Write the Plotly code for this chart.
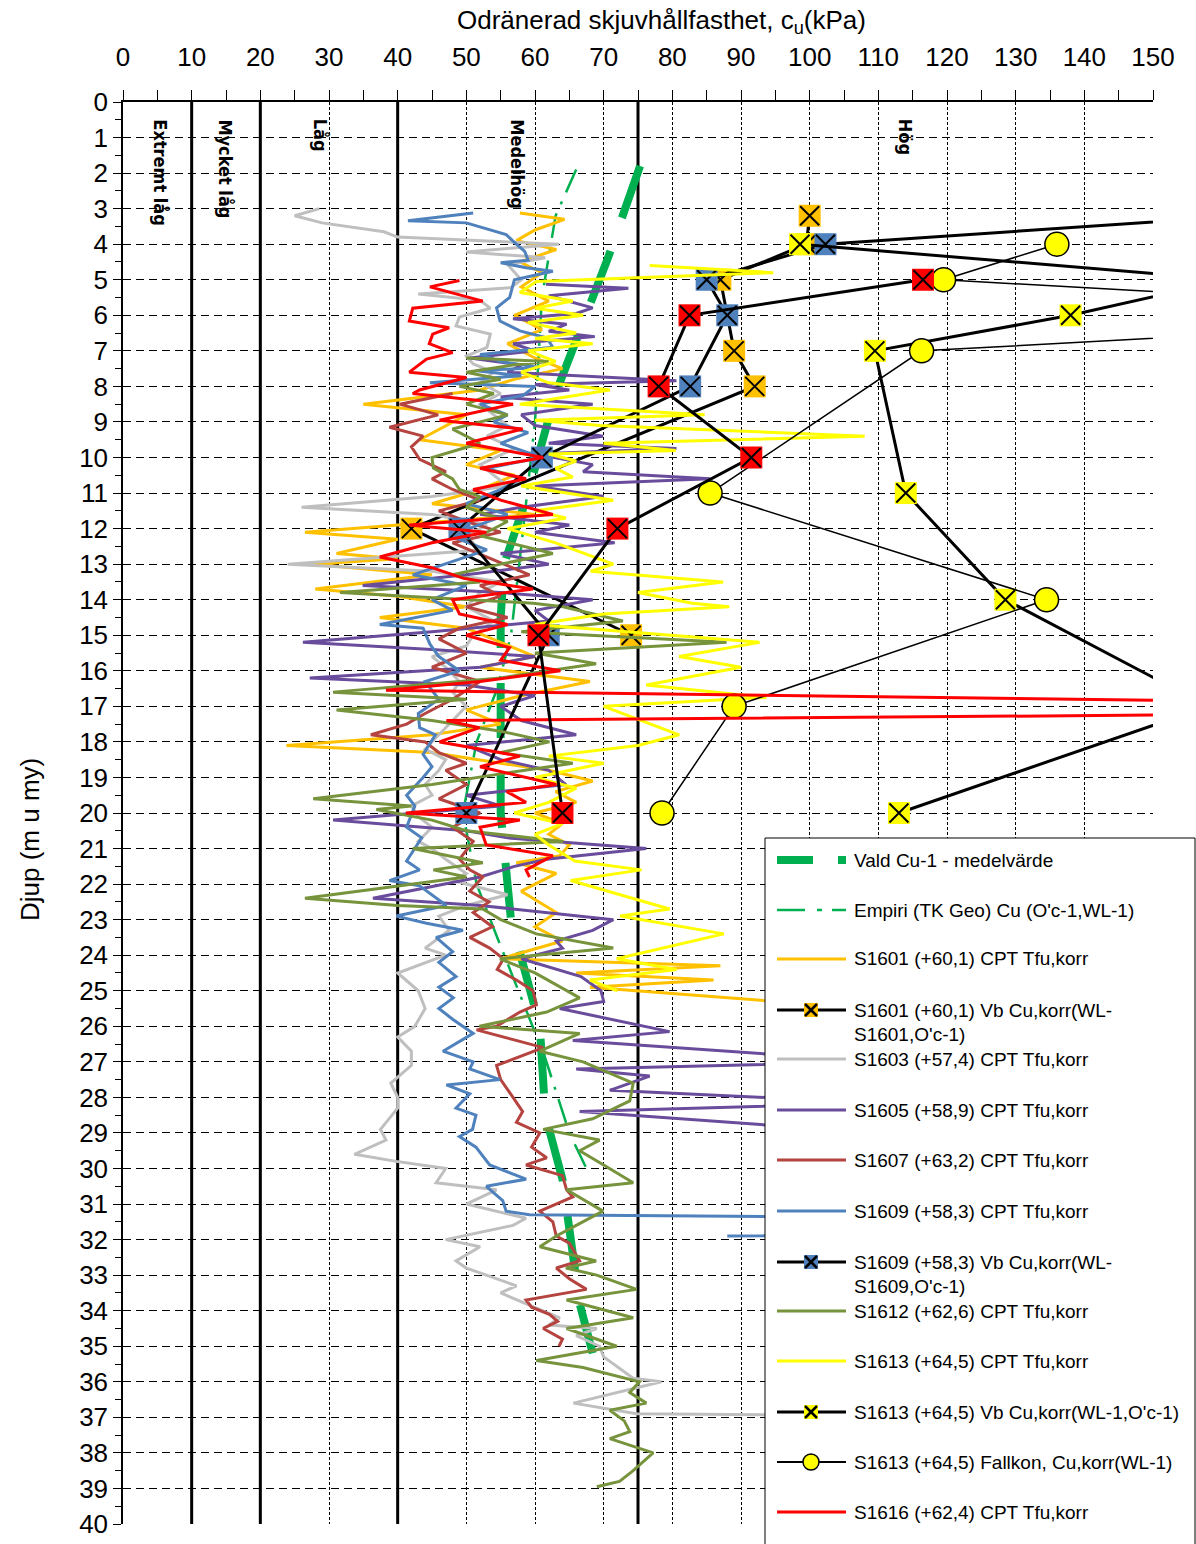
import plotly.graph_objects as go

# ---------------- data (cu kPa, depth m) ----------------
VALD_CU = [75.3, 70.6, 63.0, 59.0, 55.5, 55.0, 55.0, 56.5, 60.7, 61.5, 64.0, 66.5, 68.4]
VALD_D = [1.8, 4.4, 8.2, 11.0, 13.0, 14.5, 20.0, 23.0, 26.0, 28.5, 30.3, 33.8, 35.2]

EMP_CU = [66, 63, 61, 60, 58, 56.5, 54.5, 51.5, 49.5, 50, 51.5, 54.5, 61.5, 65, 67.5]
EMP_D = [1.9, 3.2, 5.5, 9, 12.5, 15, 16.5, 18, 20, 20.5, 22, 23.5, 26.9, 29, 30]

S1601_CPT = [(57.8,3.12),(64.3,3.3),(60,3.6),(57.3,3.9),(63.1,4.15),(57.8,4.5),(61,4.8),(58,5.2),(62,5.6),(57,6.0),
             (61,6.4),(56,6.8),(60,7.2),(64,7.5),(57,7.8),(52,8.1),(35,8.5),(50,8.8),(43.2,9.5),(55,9.8),(50,10.2),
             (57,10.5),(52,10.9),(45,11.3),(60,11.6),(26.5,12.1),(40,12.3),(31.1,12.7),(40,12.85),(27.5,13.0),(45,13.3),
             (28,13.7),(40,13.9),(50,14.2),(37.4,14.5),(50,14.8),(55,15.2),(60,15.6),(52,15.9),(68,16.3),(58,16.7),
             (50,17.1),(55,17.5),(45,17.8),(23.8,18.1),(45,18.3),(55,18.6),(62,18.8),(68.4,19.1),(63,19.4),(66,19.7),
             (60,20.0),(64,20.3),(62,20.6),(65,20.9),(63.6,21.2),(57.3,21.4),(63.1,21.7),(58,22.2),(63.1,22.8),(60,23.2),
             (64,23.6),(55,24.1),(87,24.3),(66,24.5),(86,24.7),(68,24.9),(95,25.3),(160,25.5)]

S1603_CPT = [(28.6,3.0),(25,3.2),(29,3.4),(38,3.65),(40,3.8),(63.5,4.0),(50,4.22),(61.5,4.38),(56,4.57),(57,4.8),
             (58,5.0),(56.5,5.22),(43,5.4),(52,5.58),(53.5,5.8),(49,6.05),(48.5,6.3),(53.5,6.53),(53,6.9),(50,7.15),
             (51,7.37),(54,7.6),(52,7.9),(55,8.2),(52,8.5),(54,8.8),(56,9.1),(53,9.4),(57,9.75),(52,10.2),(54,10.5),
             (56,10.8),(45,11.1),(26,11.4),(45,11.6),(53,11.9),(50,12.2),(52,12.6),(24,13.0),(45,13.2),(55,13.5),
             (52,13.8),(50,14.2),(54,14.6),(51,15.0),(50,15.3),(45,15.6),(47,15.9),(49,16.3),(48,16.6),(50,17.0),
             (48,17.4),(46,17.8),(44,18.2),(47,18.5),(46,18.8),(44,19.2),(45,19.5),(42,19.8),(43,20.1),(45,20.4),
             (43,20.8),(45,21.0),(47,21.3),(50,21.7),(48,21.9),(56,22.3),(50,22.6),(46,22.9),(47.5,23.3),(44,23.8),
             (47,24.0),(40,24.5),(43,25.0),(44,25.5),(42.5,26.0),(40,26.3),(42,26.7),(42,27.1),(39,27.6),(40,28.0),
             (40,28.3),(37.5,28.9),(38.3,29.2),(33.7,29.6),(39.8,29.8),(47,30.0),(45.6,30.4),(54.4,30.6),(50,31.0),
             (58.7,31.4),(56.8,31.6),(47,32.0),(52,32.2),(48.5,32.6),(50,32.8),(57.3,33.3),(55,33.5),(63.6,34.2),
             (62,34.4),(69,34.5),(66,34.7),(69.4,35.0),(70,35.3),(74.3,35.9),(78.4,36.0),(65.6,36.6),(71.4,36.8),
             (74.8,36.9),(200,37.1)]

S1605_CPT = [(61.6,5.13),(73.6,5.24),(62,5.45),(68.4,5.79),(66,5.95),(56.8,6.1),(64.6,6.25),(62,6.45),(68.7,6.6),
             (56.8,6.8),(60,7.0),(50.5,7.2),(58,7.4),(56,7.6),(80.6,7.84),(60,7.95),(65,8.1),(55,8.3),(68.4,8.5),
             (58,8.8),(60,9.1),(69.9,9.4),(62,9.6),(80.6,9.75),(60,9.9),(68.4,10.2),(67,10.4),(85.5,10.6),(60,10.8),
             (70,11.1),(58,11.4),(52,11.6),(65,11.9),(60,12.1),(71.6,12.4),(55,12.7),(62,13.0),(50,13.3),(34.9,13.6),
             (55,13.8),(68.4,14.0),(60,14.3),(62,14.6),(45,14.9),(26.2,15.2),(45,15.4),(60,15.6),(52,15.9),(27.2,16.2),
             (50,16.4),(60,16.7),(55,17.0),(58,17.4),(66,17.8),(50,18.1),(55,18.5),(62,18.8),(64.5,19.2),(50,19.5),
             (55,19.8),(30.6,20.2),(50,20.5),(56,20.7),(76.2,21.0),(61.7,21.3),(57,21.5),(52,21.8),(36.4,22.4),
             (52,22.6),(71.4,23.0),(68.4,23.3),(63.1,23.6),(64,23.8),(58,24.1),(66.7,24.6),(69.6,25.0),(70,25.3),
             (63.6,25.5),(79.6,26.15),(65.5,26.4),(110,27.0),(66,27.2),(76.7,27.4),(70.9,27.8),(110,28.15),
             (66.5,28.4),(110,29.0)]

S1607_CPT = [(48,8.2),(40.3,8.5),(45.9,8.8),(38.8,9.15),(43.7,9.4),(42,9.7),(43.2,10.05),(47,10.4),(45,10.6),
             (48,10.9),(52,11.2),(46,11.5),(50,11.8),(55,12.1),(48,12.4),(53,12.8),(59.2,13.3),(52,13.6),(55,13.9),
             (50,14.2),(56,14.5),(49,14.8),(46,15.1),(50,15.5),(45,15.9),(52,16.3),(48,16.8),(44,17.2),(41.3,17.5),
             (36.1,17.8),(44,18.0),(46,18.3),(50,18.6),(47,18.8),(50,19.2),(46,19.6),(52,20.0),(48,20.4),(51,20.8),
             (49,21.3),(50.5,21.6),(52.4,21.8),(50.5,22.2),(53.3,22.5),(51,22.8),(53.8,23.2),(50.5,23.5),(53.4,23.8),
             (55.4,24.1),(54.5,24.4),(57.3,24.7),(59.7,25.0),(60.2,25.4),(57.8,25.6),(54.4,26.0),(51.5,26.1),
             (61.2,26.6),(54.4,27.1),(55,27.5),(56.8,28.0),(58.2,28.4),(57.3,28.7),(60.7,29.0),(59.5,29.4),
             (61.7,29.7),(58.7,29.9),(64,30.2),(64.6,30.6),(65.5,30.8),(60.7,31.2),(62.6,31.5),(63.1,31.9),(65,32.1),
             (66.5,32.6),(63.1,32.8),(65,33.1),(67.5,33.4),(58.7,33.7),(59.5,33.9),(62.1,34.1),(63.3,34.3),
             (61.2,34.5),(64,34.8),(63.5,35.0)]

S1609_CPT = [(51,3.12),(41.5,3.34),(50,3.4),(55.8,3.73),(57,3.95),(58.5,4.2),(59,4.45),(55,4.52),(58.7,4.66),
             (62.6,4.76),(57,5.0),(56.8,5.13),(56.3,5.5),(54.4,5.79),(54.9,6.16),(57.8,6.44),(61.7,6.63),(62.6,6.9),
             (52,7.1),(55,7.3),(60.7,7.47),(51.5,7.56),(58,7.7),(44.7,7.9),(60,8.0),(58.3,8.25),(52,8.5),(56,8.8),
             (54,9.0),(59,9.3),(55,9.6),(61,10.0),(53,10.3),(58,10.6),(55,10.9),(50,11.3),(56,11.6),(47.6,12.2),
             (53,12.6),(42.2,13.3),(50,13.6),(45,14.0),(48,14.3),(37.4,14.7),(43.7,14.8),(44.7,15.25),(46,15.6),
             (49,16.0),(44,16.3),(46,16.8),(43,17.2),(43.2,17.6),(45.5,17.8),(43.7,18.35),(45,18.7),(43.7,19.0),
             (41.3,19.5),(42.5,19.8),(41.3,20.4),(43.5,20.7),(41.3,21.35),(43.2,21.6),(38.8,21.9),(43.2,22.05),
             (47.1,22.6),(39.8,22.9),(44.2,23.1),(49.5,23.3),(45.6,23.5),(48,23.9),(46,24.2),(48.5,24.6),(46,24.9),
             (48.1,25.2),(46,25.5),(48,25.8),(51,26.2),(46.6,26.7),(51,27.0),(50.5,27.2),(54.9,27.5),(47.1,27.65),
             (50.5,27.9),(48.5,28.3),(51.4,28.5),(50.9,28.9),(49,29.1),(51.4,29.4),(53.4,29.9),(58.7,30.3),
             (52.9,30.5),(55.3,30.9),(55.8,31.2),(59.2,31.3),(250,31.6),(88,31.9)]

S1612_CPT = [(50,7.2),(62,7.3),(56.8,7.4),(50,7.6),(55,7.8),(49,8.0),(54,8.2),(50,8.5),(56,8.8),(48,9.2),(52,9.6),
             (45,10.0),(45.2,10.3),(48,10.6),(49,10.9),(52,11.1),(50,11.4),(56,11.8),(52,12.2),(62.6,12.7),(55,13.0),
             (48,13.3),(52,13.5),(31.6,13.8),(59.7,14.1),(64.1,14.2),(72.8,14.6),(58,14.9),(87.9,15.2),(60,15.5),
             (68.9,15.8),(55,16.2),(30.6,16.6),(50,16.8),(31.1,17.1),(45,17.4),(55,17.7),(62.1,18.0),(55,18.3),
             (65.5,18.6),(55,18.9),(45,19.2),(27.7,19.6),(42,19.8),(36.9,19.9),(45,20.2),(50,20.5),(64.1,20.8),
             (42.2,21.0),(52.4,21.4),(45.2,21.6),(50,21.8),(26.5,22.4),(40,22.6),(52.4,22.7),(55,23.0),(60.2,23.4),
             (71.4,23.8),(54.9,24.1),(60,24.5),(66.5,25.2),(61.7,25.6),(51.9,26.0),(66.5,26.2),(60.7,26.7),(67,27.0),
             (74.3,27.6),(73.8,28.1),(68.4,28.6),(61.2,28.9),(69.4,29.2),(66.5,29.5),(70,29.9),(74.3,30.4),(64.6,30.6),
             (69.9,31.2),(66,31.6),(63.1,31.9),(60.7,32.2),(68.9,32.6),(64.5,32.8),(69,33.0),(74.8,33.4),(64.6,33.7),
             (74.3,34.2),(64.6,34.5),(71.9,35.0),(60.2,35.4),(67,35.6),(75.2,36.0),(73.8,36.3),(76.2,36.6),(70.9,36.8),
             (73,37.1),(73.8,37.4),(70.9,37.6),(77.2,38.0),(74.3,38.5),(72.3,38.8),(69,38.95)]

S1613_CPT = [(76.7,4.6),(94.7,4.8),(60.2,5.05),(57.8,5.36),(65.5,5.6),(60,5.8),(67,6.0),(59,6.2),(66,6.5),(60,6.65),
             (68.4,6.8),(59,7.0),(63,7.3),(58,7.6),(62,7.9),(70.9,8.1),(57.8,8.5),(84.7,8.8),(60,8.95),(69.5,9.1),
             (108,9.4),(70,9.6),(80.5,9.8),(62,9.9),(66,10.1),(63,10.3),(65.5,10.55),(58,10.8),(71.4,11.2),(60,11.5),
             (64.5,11.7),(56,12.0),(63,12.4),(71.4,13.0),(68.1,13.2),(87.4,13.5),(75,13.8),(82.9,14.1),(88.3,14.2),
             (70,14.4),(60,14.7),(92.7,15.2),(81,15.6),(90,15.9),(76.2,16.4),(93.7,16.75),(70,17.0),(81,17.8),
             (75,18.1),(62,18.4),(70,18.6),(60,19.0),(66,19.3),(62,19.7),(57,20.0),(64,20.3),(60,20.6),(62,20.9),
             (65.8,21.35),(75.5,21.6),(65.2,21.9),(79.6,22.7),(72.4,22.9),(87.5,23.4),(71.9,24.1),(80.6,24.4),
             (68,24.7),(72,25.0)]

S1616_CPT = [(49,5.02),(44.7,5.2),(52.4,5.6),(42.2,5.8),(41.7,6.16),(47.5,6.35),(45.1,6.53),(44.6,6.8),(48,7.05),
             (44.2,7.23),(41.7,7.6),(50,7.75),(43.2,8.1),(42.2,8.2),(56.8,8.5),(46.1,8.95),(58.2,9.2),(50,9.6),
             (61.2,10.0),(52,10.3),(58.7,10.6),(51,10.9),(55,11.2),(62.6,11.6),(41.7,11.9),(52.9,12.1),(45,12.4),
             (37.4,12.8),(45,13.1),(49.6,13.4),(59.7,13.7),(48,14.0),(49,14.4),(56,14.7),(50,15.0),(56.3,15.35),
             (55,15.7),(63.7,16.0),(52,16.3),(38.3,16.55),(180,16.9),(180,17.2),(47.1,17.4),(51.9,17.6),(46.1,18.0),
             (57.8,18.4),(52,18.7),(63.1,19.2),(55.9,19.4),(58.7,19.7),(41.2,20.0),(57.8,20.2),(52,20.4),(52.9,20.9),
             (62.6,21.2),(58.7,21.6),(59.2,21.8)]

# vane / fall-cone tests
S1601_VB_CU = [100, 99.5, 87, 89, 92, 42, 74]
S1601_VB_D = [3.2, 4, 5, 7, 8, 12, 15]
S1609_VB_CU = [179, 102.3, 85, 88, 82.6, 61, 49, 62, 50]
S1609_VB_D = [3, 4, 5, 6, 8, 10, 12, 15, 20]
S1613_VB_CU = [98.6, 161, 138, 109.5, 114, 128.5, 158, 113]
S1613_VB_D = [4, 5, 6, 7, 11, 14, 17, 20]
FALLKON_CU = [136, 119.5, 212, 116.3, 85.5, 134.5, 89, 78.5]
FALLKON_D = [4, 5, 6, 7, 11, 14, 17, 20]
S1616_VB_CU = [116.5, 82.5, 78, 91.5, 72, 60.5, 64]
S1616_VB_D = [5, 6, 8, 10, 12, 15, 20]

ZONE_LABELS = ["Extremt låg", "Mycket låg", "Låg", "Medelhög", "Hög"]
ZONE_X = [5.4, 15.0, 28.8, 57.4, 113.9]
ZONE_LINES = [10, 20, 40, 75]

C_GREEN = "#00B050"; C_ORANGE = "#FFC000"; C_GRAY = "#BFBFBF"; C_PURPLE = "#6A4C9C"
C_BROWN = "#B5433F"; C_BLUE = "#4F81BD"; C_OLIVE = "#77933C"; C_YELLOW = "#FFFF00"; C_RED = "#FF0000"

fig = go.Figure()

def cpt(pairs, color):
    fig.add_trace(go.Scatter(x=[p[0] for p in pairs], y=[p[1] for p in pairs], mode="lines",
                             line=dict(color=color, width=3), showlegend=False, hoverinfo="skip"))

def vb(cu, d, color):
    fig.add_trace(go.Scatter(x=cu, y=d, mode="lines+markers", line=dict(color="black", width=3),
                             marker=dict(symbol="square", size=22, color=color, line=dict(width=0)),
                             showlegend=False, hoverinfo="skip"))
    fig.add_trace(go.Scatter(x=cu, y=d, mode="markers",
                             marker=dict(symbol="x-thin", size=19, line=dict(color="black", width=2)),
                             showlegend=False, hoverinfo="skip"))

fig.add_trace(go.Scatter(x=VALD_CU, y=VALD_D, mode="lines", line=dict(color=C_GREEN, width=8, dash="55px,35px"),
                         showlegend=False, hoverinfo="skip"))
fig.add_trace(go.Scatter(x=EMP_CU, y=EMP_D, mode="lines", line=dict(color=C_GREEN, width=2.5, dash="25px,10px,3px,10px"),
                         showlegend=False, hoverinfo="skip"))
cpt(S1601_CPT, C_ORANGE)
vb(S1601_VB_CU, S1601_VB_D, C_ORANGE)
cpt(S1603_CPT, C_GRAY)
cpt(S1605_CPT, C_PURPLE)
cpt(S1607_CPT, C_BROWN)
cpt(S1609_CPT, C_BLUE)
vb(S1609_VB_CU, S1609_VB_D, C_BLUE)
cpt(S1612_CPT, C_OLIVE)
cpt(S1613_CPT, C_YELLOW)
vb(S1613_VB_CU, S1613_VB_D, C_YELLOW)
fig.add_trace(go.Scatter(x=FALLKON_CU, y=FALLKON_D, mode="lines+markers", line=dict(color="black", width=1.5),
                         marker=dict(symbol="circle", size=24, color=C_YELLOW, line=dict(color="black", width=1.5)),
                         showlegend=False, hoverinfo="skip"))
cpt(S1616_CPT, C_RED)
vb(S1616_VB_CU, S1616_VB_D, C_RED)

# ---------------- layout ----------------
W, H = 1196, 1544
L, R, T, B = 123, 1153, 102, 1524
FONT = "Liberation Sans, Arial, sans-serif"

def px(xp, yp):
    return (xp - L) / (R - L), (B - yp) / (B - T)

shapes = []
for xv in ZONE_LINES:
    shapes.append(dict(type="line", xref="x", yref="y", x0=xv, x1=xv, y0=0, y1=40,
                       line=dict(color="black", width=3), layer="below"))

# manual legend box
x0, y0 = px(765, 838)
x1, y1 = px(1195, 1560)
shapes.append(dict(type="rect", xref="paper", yref="paper", x0=x0, x1=x1, y0=y1, y1=y0,
                   fillcolor="white", line=dict(color="black", width=1), layer="above"))

def lseg(xa, xb, yy, color, width):
    a = px(xa, yy); b = px(xb, yy)
    shapes.append(dict(type="line", xref="paper", yref="paper", x0=a[0], x1=b[0], y0=a[1], y1=b[1],
                       line=dict(color=color, width=width), layer="above"))

def sq(cx, cy, color, hs=7):
    a = px(cx - hs, cy + hs); b = px(cx + hs, cy - hs)
    shapes.append(dict(type="rect", xref="paper", yref="paper", x0=a[0], x1=b[0], y0=a[1], y1=b[1],
                       fillcolor=color, line=dict(width=0), layer="above"))
    for (ax_, ay_, bx_, by_) in [(cx - 6, cy - 6, cx + 6, cy + 6), (cx - 6, cy + 6, cx + 6, cy - 6)]:
        p1 = px(ax_, ay_); p2 = px(bx_, by_)
        shapes.append(dict(type="line", xref="paper", yref="paper", x0=p1[0], x1=p2[0], y0=p1[1], y1=p2[1],
                           line=dict(color="black", width=2.5), layer="above"))

def circ(cx, cy, color, r=8):
    a = px(cx - r, cy + r); b = px(cx + r, cy - r)
    shapes.append(dict(type="circle", xref="paper", yref="paper", x0=a[0], x1=b[0], y0=a[1], y1=b[1],
                       fillcolor=color, line=dict(color="black", width=1.5), layer="above"))

LEG_TEXT = [
    ("Vald Cu-1 - medelvärde", 860), ("Empiri (TK Geo) Cu (O'c-1,WL-1)", 910), ("S1601 (+60,1) CPT Tfu,korr", 959),
    ("S1601 (+60,1) Vb Cu,korr(WL-", 1010), ("S1601,O'c-1)", 1034), ("S1603 (+57,4) CPT Tfu,korr", 1059),
    ("S1605 (+58,9) CPT Tfu,korr", 1110), ("S1607 (+63,2) CPT Tfu,korr", 1160), ("S1609 (+58,3) CPT Tfu,korr", 1211),
    ("S1609 (+58,3) Vb Cu,korr(WL-", 1262), ("S1609,O'c-1)", 1286), ("S1612 (+62,6) CPT Tfu,korr", 1311),
    ("S1613 (+64,5) CPT Tfu,korr", 1361), ("S1613 (+64,5) Vb Cu,korr(WL-1,O'c-1)", 1412),
    ("S1613 (+64,5) Fallkon, Cu,korr(WL-1)", 1462), ("S1616 (+62,4) CPT Tfu,korr", 1512)]

# samples
lseg(777, 813, 860, C_GREEN, 8); lseg(838, 846, 860, C_GREEN, 8)
lseg(777, 805, 910, C_GREEN, 2.5); lseg(817, 822, 910, C_GREEN, 2.5); lseg(832, 846, 910, C_GREEN, 2.5)
lseg(777, 846, 959, C_ORANGE, 3)
lseg(777, 846, 1010, "black", 3); sq(811, 1010, C_ORANGE)
lseg(777, 846, 1059, C_GRAY, 3)
lseg(777, 846, 1110, C_PURPLE, 3)
lseg(777, 846, 1160, C_BROWN, 3)
lseg(777, 846, 1211, C_BLUE, 3)
lseg(777, 846, 1262, "black", 3); sq(811, 1262, C_BLUE)
lseg(777, 846, 1311, C_OLIVE, 3)
lseg(777, 846, 1361, C_YELLOW, 3)
lseg(777, 846, 1412, "black", 3); sq(811, 1412, C_YELLOW)
lseg(777, 846, 1462, "black", 2); circ(811, 1462, C_YELLOW)
lseg(777, 846, 1512, C_RED, 3)

annotations = []
for txt, yy in LEG_TEXT:
    a = px(852, yy)
    annotations.append(dict(xref="paper", yref="paper", x=a[0], y=a[1], text=txt, showarrow=False,
                            xanchor="left", yanchor="middle", font=dict(family=FONT, size=19, color="black")))

for lab, xv in zip(ZONE_LABELS, ZONE_X):
    annotations.append(dict(xref="x", yref="y", x=xv, y=0.42, text="<b>" + lab + "</b>", textangle=90,
                            showarrow=False, xanchor="center", yanchor="top",
                            font=dict(family="Liberation Sans Narrow, DejaVu Sans Condensed, Arial Narrow, sans-serif",
                                      size=18, color="black")))

t = px(661, 22)
annotations.append(dict(xref="paper", yref="paper", x=t[0], y=t[1], text="Odränerad skjuvhållfasthet, c<sub>u</sub>(kPa)",
                        showarrow=False, xanchor="center", yanchor="middle", font=dict(family=FONT, size=26, color="black")))
yt = px(30, 840)
annotations.append(dict(xref="paper", yref="paper", x=yt[0], y=yt[1], text="Djup (m u my)", textangle=-90,
                        showarrow=False, xanchor="center", yanchor="middle", font=dict(family=FONT, size=26, color="black")))

fig.update_layout(
    width=W, height=H, margin=dict(l=L, r=W - R, t=T, b=H - B, pad=0, autoexpand=False),
    plot_bgcolor="white", paper_bgcolor="white", showlegend=False,
    xaxis=dict(range=[0, 150], side="top", tick0=0, dtick=10, showgrid=True, gridcolor="black", gridwidth=1,
               griddash="3px,2px", ticks="outside", ticklen=10, tickwidth=1, tickcolor="black",
               minor=dict(dtick=5, ticks="outside", ticklen=10, tickcolor="black", showgrid=False),
               showline=True, linecolor="black", linewidth=1.5, zeroline=False, ticklabelstandoff=14,
               tickfont=dict(family=FONT, size=26, color="black")),
    yaxis=dict(range=[40, 0], tick0=0, dtick=1, showgrid=True, gridcolor="black", gridwidth=1,
               griddash="8px,5px", ticks="outside", ticklen=8, tickwidth=1, tickcolor="black",
               minor=dict(dtick=0.5, ticks="outside", ticklen=6, tickcolor="black", showgrid=False),
               showline=True, linecolor="black", linewidth=1.5, zeroline=False,
               tickfont=dict(family=FONT, size=26, color="black")),
    shapes=shapes, annotations=annotations,
)

fig.write_html("out.html")
